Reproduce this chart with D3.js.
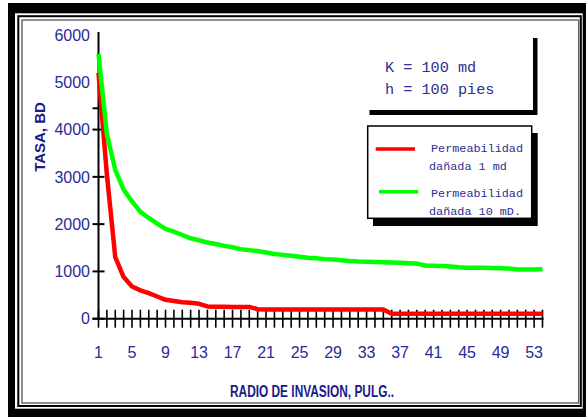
<!DOCTYPE html>
<html>
<head>
<meta charset="utf-8">
<script src="https://cdn.jsdelivr.net/npm/d3@7"></script>
<style>
  html, body { margin: 0; padding: 0; background: #fff; }
  svg { display: block; }
</style>
</head>
<body>
<svg id="chart"></svg>
<script>
// ── Data ─────────────────────────────────────────────
// radio de invasion (pulg.) 1..54
const radius = d3.range(1, 55);

// permeabilidad dañada 1 md
const rateDamaged1 = [
  5200, 3050, 1300, 880, 680, 600, 540, 470, 400, 375,
  350, 335, 315, 260, 255, 255, 250, 250, 250, 200,
  195, 195, 195, 195, 195, 195, 195, 195, 195, 195,
  195, 195, 195, 195, 195, 105, 105, 105, 105, 105,
  105, 105, 105, 105, 105, 105, 105, 105, 105, 105,
  105, 105, 105, 105
];

// permeabilidad dañada 10 mD
const rateDamaged10 = [
  5600, 3900, 3150, 2730, 2480, 2260, 2130, 2010, 1900, 1840,
  1770, 1700, 1660, 1610, 1580, 1540, 1510, 1470, 1450, 1430,
  1400, 1370, 1350, 1330, 1310, 1290, 1280, 1260, 1250, 1235,
  1220, 1210, 1205, 1200, 1195, 1190, 1185, 1175, 1165, 1125,
  1120, 1115, 1105, 1090, 1080, 1078, 1075, 1072, 1068, 1060,
  1040, 1040, 1040, 1045
];

const yLabels     = [0, 1000, 2000, 3000, 4000, 5000, 6000];
const yTickMarks  = [0, 1000, 2000, 3000, 4000, 4450];
const xLabels     = [1, 5, 9, 13, 17, 21, 25, 29, 33, 37, 41, 45, 49, 53];

const series = [
  { name: 'Permeabilidad', sub: 'dañada 1 md',   values: rateDamaged1,  color: '#ff0000' },
  { name: 'Permeabilidad', sub: 'dañada 10 mD.', values: rateDamaged10, color: '#00ff00' }
];
const noteLines = ['K = 100 md', 'h = 100 pies'];

// ── Setup ────────────────────────────────────────────
const W = 586, H = 417;
const svg = d3.select('#chart').attr('width', W).attr('height', H);

const LABEL = '#2a2a98', TITLE = '#1a1a8c', MONO = '#2e2e90';
const sansNarrow = "'Liberation Sans Narrow', 'Arial Narrow', 'Liberation Sans', Arial, sans-serif";
const mono = "'Liberation Mono', 'Courier New', 'DejaVu Sans Mono', monospace";

const x = d3.scaleLinear().domain([1, 54]).range([98.5, 542.5]);
const y = d3.scaleLinear().domain([0, 6000]).range([318.7, 35]);

// Frame (thick black, thin black, grey)
svg.append('rect').attr('x', 8).attr('y', 3).attr('width', 600).attr('height', 430).attr('fill', '#000');
svg.append('rect').attr('x', 15).attr('y', 13.3).attr('width', 567.7).attr('height', 395.4).attr('fill', '#fff');
svg.append('rect').attr('x', 18.3).attr('y', 16.2).attr('width', 562.5).attr('height', 389.8)
  .attr('fill', 'none').attr('stroke', '#000').attr('stroke-width', 2);
svg.append('rect').attr('x', 22).attr('y', 20).attr('width', 556.7).attr('height', 383)
  .attr('fill', 'none').attr('stroke', '#555').attr('stroke-width', 1.3);

// Axes
const axes = svg.append('g');
axes.append('line').attr('x1', x(1)).attr('x2', x(1)).attr('y1', y(0)).attr('y2', 32)
  .attr('stroke', '#000').attr('stroke-width', 2);
axes.append('line').attr('x1', x(1) - 6).attr('x2', x(54) + 1).attr('y1', y(0)).attr('y2', y(0))
  .attr('stroke', '#000').attr('stroke-width', 2);

axes.selectAll('.ytick').data(yTickMarks).join('line').attr('class', 'ytick')
  .attr('x1', x(1) - 6).attr('x2', x(1) + 6)
  .attr('y1', d => y(d)).attr('y2', d => y(d))
  .attr('stroke', '#000').attr('stroke-width', 2);

axes.selectAll('.xtick').data(radius).join('line').attr('class', 'xtick')
  .attr('x1', d => x(d)).attr('x2', d => x(d))
  .attr('y1', y(0) - 9).attr('y2', y(0) + 9)
  .attr('stroke', '#000').attr('stroke-width', 1.6);

axes.selectAll('.ylab').data(yLabels).join('text').attr('class', 'ylab')
  .attr('x', 90).attr('y', d => y(d)).attr('dy', '0.36em')
  .attr('text-anchor', 'end').attr('font-family', sansNarrow).attr('font-size', 16)
  .attr('fill', LABEL).text(d => d);

axes.selectAll('.xlab').data(xLabels).join('text').attr('class', 'xlab')
  .attr('x', d => x(d)).attr('y', 358)
  .attr('text-anchor', 'middle').attr('font-family', sansNarrow).attr('font-size', 16)
  .attr('fill', LABEL).text(d => d);

// Axis titles
svg.append('text').attr('transform', 'translate(45,137) rotate(-90)')
  .attr('text-anchor', 'middle').attr('font-family', 'Liberation Sans, Arial, sans-serif')
  .attr('font-weight', 'bold').attr('font-size', 15).attr('fill', TITLE).text('TASA, BD');

svg.append('text').attr('x', 230).attr('y', 397)
  .attr('font-family', 'Liberation Sans, Arial, sans-serif').attr('font-weight', 'bold')
  .attr('font-size', 16).attr('textLength', 164).attr('lengthAdjust', 'spacingAndGlyphs')
  .attr('fill', TITLE).text('RADIO DE INVASION, PULG..');

// Lines
const line = d3.line().x((d, i) => x(radius[i])).y(d => y(d));
svg.selectAll('.series').data(series).join('path').attr('class', 'series')
  .attr('d', d => line(d.values)).attr('fill', 'none')
  .attr('stroke', d => d.color).attr('stroke-width', 4.5).attr('stroke-linejoin', 'round');

// Note box (K, h) with shadow
svg.append('rect').attr('x', 369.5).attr('y', 38).attr('width', 168).attr('height', 77).attr('fill', '#000');
svg.append('rect').attr('x', 365).attr('y', 33).attr('width', 168).attr('height', 77).attr('fill', '#fff');
svg.selectAll('.note').data(noteLines).join('text').attr('class', 'note')
  .attr('x', 385).attr('y', (d, i) => 72 + i * 22)
  .attr('font-family', mono).attr('font-size', 15.2).attr('fill', MONO).text(d => d);

// Legend box with shadow
svg.append('rect').attr('x', 373).attr('y', 133).attr('width', 164.7).attr('height', 93).attr('fill', '#000');
svg.append('rect').attr('x', 367.7).attr('y', 126).attr('width', 164).attr('height', 92.3)
  .attr('fill', '#fff').attr('stroke', '#000').attr('stroke-width', 1.5);

const leg = svg.selectAll('.leg').data(series).join('g').attr('class', 'leg');
leg.append('line')
  .attr('x1', (d, i) => 375.7 + i * 3.3).attr('x2', (d, i) => 415 + i * 3.3)
  .attr('y1', (d, i) => 149 + i * 42.7).attr('y2', (d, i) => 149 + i * 42.7)
  .attr('stroke', d => d.color).attr('stroke-width', 3.5);
leg.append('text').attr('x', 431).attr('y', (d, i) => 151.7 + i * 45)
  .attr('font-family', mono).attr('font-size', 11.8).attr('fill', MONO).text(d => d.name);
leg.append('text').attr('x', 429).attr('y', (d, i) => 170 + i * 45)
  .attr('font-family', mono).attr('font-size', 11.8).attr('fill', MONO).text(d => d.sub);
</script>
</body>
</html>
